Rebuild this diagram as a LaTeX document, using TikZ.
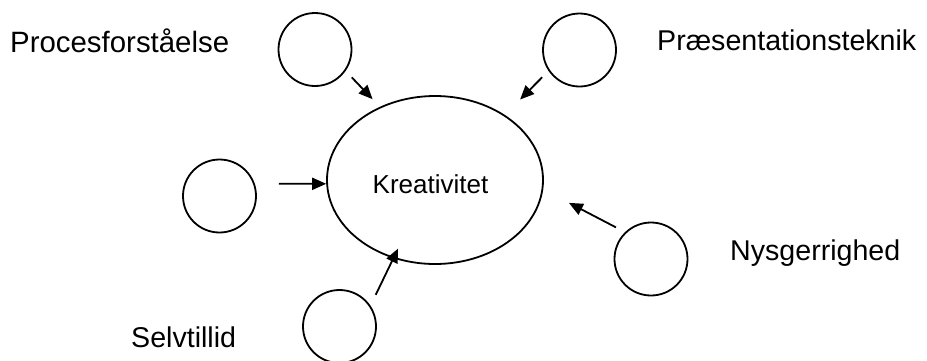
\documentclass[tikz,border=0pt]{standalone}
\usepackage{fontspec}
\setmainfont{Liberation Sans}
\usetikzlibrary{arrows.meta,shapes.geometric}

\tikzset{
  bubble/.style={circle, draw, line width=1.8pt, minimum size=73pt, inner sep=0pt},
  core/.style={ellipse, draw, line width=1.8pt, minimum width=216pt, minimum height=168pt,
               inner sep=0pt, text height=26pt, text depth=0pt,
               font=\fontsize{26}{30}\selectfont},
  tag/.style={anchor=base west, inner sep=0pt, font=\fontsize{28.6}{34}\selectfont},
  feed/.style={line width=1.8pt, -{Triangle[length=14pt, width=12pt]}}
}

\begin{document}
\begin{tikzpicture}[x=1pt, y=-1pt]
  \useasboundingbox (0,0) rectangle (927,360);

  % central idea (text sits a little left of and below the centre)
  \node[core] (kre) at (435,180) {\hspace*{-9pt}Kreativitet};

  % surrounding qualities
  \node[bubble] (c1) at (315,49.5) {};
  \node[bubble] (c2) at (579.5,50) {};
  \node[bubble] (c3) at (219.5,196) {};
  \node[bubble] (c4) at (339.5,326.5) {};
  \node[bubble] (c5) at (651,259) {};

  % labels
  \node[tag, font=\fontsize{29.4}{35}\selectfont] (t1) at (10,52) {Procesforståelse};
  \node[tag] (t2) at (657,50) {Præsentationsteknik};
  \node[tag] (t5) at (730,260) {Nysgerrighed};
  \node[tag] (t4) at (131,347) {Selvtillid};

  % arrows into the centre
  \draw[feed, shorten <=8.9pt, shorten >=10.5pt] (c1.-35.2) -- (kre.127.1);
  \draw[feed, shorten <=9pt, shorten >=21.6pt] (c2.214.7) -- (kre.43.6);
  \draw[feed, shorten <=24pt] (c3.19.2) -- (kre.182.1);
  \draw[feed, shorten <=12pt, shorten >=-10.9pt] (c4.34.7) -- (kre.242.2);
  \draw[feed, shorten <=10.2pt, shorten >=29pt] (c5.134.5) -- (kre.-5.9);
\end{tikzpicture}
\end{document}
